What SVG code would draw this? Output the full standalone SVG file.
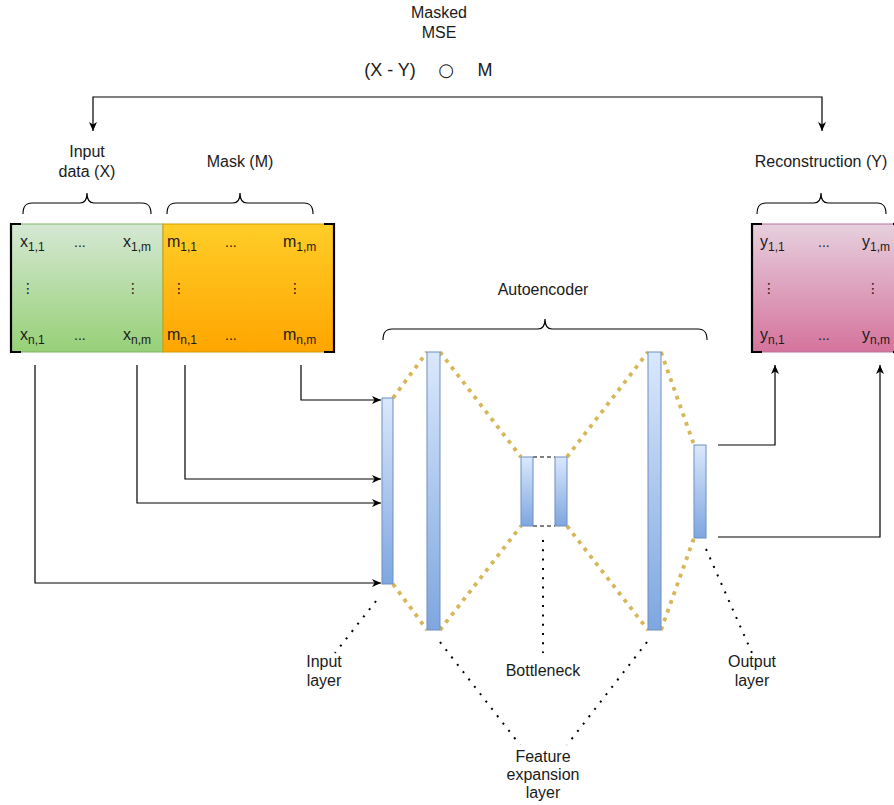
<svg xmlns="http://www.w3.org/2000/svg" width="894" height="805" viewBox="0 0 894 805">
<style>
text{font-family:"Liberation Sans","DejaVu Sans",Arial,sans-serif;font-size:16px;fill:#1a1a1a}
.c{text-anchor:middle}
.f{font-size:18px}
.sub{font-size:12px}
.dots{font-size:14px}
.vd{font-family:"DejaVu Sans","Liberation Sans",sans-serif;font-size:14px;text-anchor:middle}
.conn{fill:none;stroke:#000;stroke-width:1.2}
.brace{fill:none;stroke:#000;stroke-width:1.2}
.brk{fill:none;stroke:#000;stroke-width:2.2}
.layer{fill:url(#gBlue);stroke:#6c8ebf;stroke-width:1}
.gold{fill:none;stroke:#d6b656;stroke-width:3.8;stroke-dasharray:3.8 5.5}
.note{fill:none;stroke:#000;stroke-width:2;stroke-dasharray:2 7.3}
</style>
<defs>
<linearGradient id="gGreen" x1="0" y1="0" x2="0" y2="1"><stop offset="0" stop-color="#d5e8d4"/><stop offset="1" stop-color="#97d077"/></linearGradient>
<linearGradient id="gOrange" x1="0" y1="0" x2="0" y2="1"><stop offset="0" stop-color="#ffcd28"/><stop offset="1" stop-color="#ffa500"/></linearGradient>
<linearGradient id="gPink" x1="0" y1="0" x2="0" y2="1"><stop offset="0" stop-color="#e6d0de"/><stop offset="1" stop-color="#d5739d"/></linearGradient>
<linearGradient id="gBlue" x1="0" y1="0" x2="0" y2="1"><stop offset="0" stop-color="#dae8fc"/><stop offset="1" stop-color="#7ea6e0"/></linearGradient>
<marker id="arr" markerUnits="userSpaceOnUse" markerWidth="10" markerHeight="8" refX="9" refY="4" orient="auto"><path d="M0,0 L9,4 L0,8 L2.5,4 z" fill="#000"/></marker>
</defs>

<g id="formula">
<text class="c" x="439" y="18">Masked</text>
<text class="c" x="439" y="38">MSE</text>
<text class="c f" x="390" y="76">(X - Y)</text>
<text class="c" x="446" y="76" style="font-family:'DejaVu Sans',sans-serif;font-size:18px">○</text>
<text class="c f" x="485" y="76">M</text>
</g>

<g id="input-matrix">
<rect x="11" y="224" width="152" height="128" fill="url(#gGreen)" stroke="#82b366" stroke-width="1"/>
<path class="brk" d="M21,224 H11 V352 H21"/>
<text x="20" y="247">x<tspan class="sub" dy="4">1,1</tspan></text>
<text class="dots" x="74" y="247">...</text>
<text x="123" y="247">x<tspan class="sub" dy="4">1,m</tspan></text>
<text class="vd" x="28" y="293">⋮</text>
<text class="vd" x="133" y="293">⋮</text>
<text x="20" y="340">x<tspan class="sub" dy="4">n,1</tspan></text>
<text class="dots" x="74" y="340">...</text>
<text x="123" y="340">x<tspan class="sub" dy="4">n,m</tspan></text>
</g>

<g id="mask-matrix">
<rect x="163" y="224" width="171" height="128" fill="url(#gOrange)" stroke="#d79b00" stroke-width="1"/>
<path class="brk" d="M324,224 H334 V352 H324"/>
<text x="167" y="247">m<tspan class="sub" dy="4">1,1</tspan></text>
<text class="dots" x="225" y="247">...</text>
<text x="283" y="247">m<tspan class="sub" dy="4">1,m</tspan></text>
<text class="vd" x="179" y="293">⋮</text>
<text class="vd" x="295" y="293">⋮</text>
<text x="167" y="340">m<tspan class="sub" dy="4">n,1</tspan></text>
<text class="dots" x="225" y="340">...</text>
<text x="283" y="340">m<tspan class="sub" dy="4">n,m</tspan></text>
</g>

<g id="recon-matrix">
<rect x="752" y="224" width="152" height="128" fill="url(#gPink)" stroke="#b5739d" stroke-width="1"/>
<path class="brk" d="M762,224 H752 V352 H762"/>
<path class="brk" d="M893,224 H903 V352 H893"/>
<text x="760" y="247">y<tspan class="sub" dy="4">1,1</tspan></text>
<text class="dots" x="818" y="247">...</text>
<text x="862" y="247">y<tspan class="sub" dy="4">1,m</tspan></text>
<text class="vd" x="769" y="293">⋮</text>
<text class="vd" x="873" y="293">⋮</text>
<text x="760" y="340">y<tspan class="sub" dy="4">n,1</tspan></text>
<text class="dots" x="818" y="340">...</text>
<text x="862" y="340">y<tspan class="sub" dy="4">n,m</tspan></text>
</g>

<g id="brace-input">
<path class="brace" d="M23,214 C23,207 25,203 32,203 L80,203 C85,203 87,199 87,193 C87,199 89,203 94,203 L142,203 C149,203 151,207 151,214"/>
<text class="c" x="87" y="157">Input</text>
<text class="c" x="87" y="177">data (X)</text>
</g>
<g id="brace-mask">
<path class="brace" d="M167,214 C167,207 169,203 176,203 L233,203 C238,203 240,199 240,193 C240,199 242,203 247,203 L304,203 C311,203 313,207 313,214"/>
<text class="c" x="240" y="167">Mask (M)</text>
</g>
<g id="brace-recon">
<path class="brace" d="M757,214 C757,207 759,203 766,203 L814,203 C819,203 821,199 821,193 C821,199 823,203 828,203 L877,203 C884,203 886,207 886,214"/>
<text class="c" x="821" y="167">Reconstruction (Y)</text>
</g>
<g id="brace-autoencoder">
<path class="brace" d="M383,340 C383,333 385,329 392,329 L538,329 C543,329 545,325 545,319 C545,325 547,329 552,329 L698,329 C705,329 707,333 707,340"/>
<text class="c" x="543" y="295">Autoencoder</text>
</g>

<g id="autoencoder">
<path class="gold" d="M393,398 L427,352 M393,584 L427,630 M440,352 L521,457 M440,630 L521,526 M567,457 L648,352 M567,526 L648,630 M661,352 L694,445 M661,630 L694,538"/>
<path d="M533,457 H555 M533,526 H555" fill="none" stroke="#000" stroke-width="1" stroke-dasharray="4 3"/>
<rect id="input-layer" class="layer" x="382" y="398" width="11" height="186"/>
<rect id="feature-layer-1" class="layer" x="427" y="352" width="13" height="278"/>
<rect id="bottleneck-1" class="layer" x="521" y="457" width="12" height="69"/>
<rect id="bottleneck-2" class="layer" x="555" y="457" width="12" height="69"/>
<rect id="feature-layer-2" class="layer" x="648" y="352" width="13" height="278"/>
<rect id="output-layer" class="layer" x="694" y="445" width="12" height="93"/>
</g>

<g id="connectors">
<path class="conn" d="M458,97 H93 V131" marker-end="url(#arr)"/>
<path class="conn" d="M458,97 H822 V131" marker-end="url(#arr)"/>
<path class="conn" d="M35,365 V583 H381" marker-end="url(#arr)"/>
<path class="conn" d="M137,365 V503 H381" marker-end="url(#arr)"/>
<path class="conn" d="M185,365 V479 H381" marker-end="url(#arr)"/>
<path class="conn" d="M301,365 V400 H381" marker-end="url(#arr)"/>
<path class="conn" d="M718,445 H775 V365" marker-end="url(#arr)"/>
<path class="conn" d="M718,537 H880 V365" marker-end="url(#arr)"/>
</g>

<g id="annotations">
<path class="note" d="M376,601 L335,653"/>
<path class="note" d="M440,642 L520,745"/>
<path class="note" d="M647,642 L567,745"/>
<path class="note" d="M543,540 L543,653"/>
<path class="note" d="M706,549 L752,653"/>
</g>
<g id="label-input-layer"><text class="c" x="324" y="667">Input</text><text class="c" x="324" y="686">layer</text></g>
<g id="label-bottleneck"><text class="c" x="543" y="676">Bottleneck</text></g>
<g id="label-output-layer"><text class="c" x="752" y="667">Output</text><text class="c" x="752" y="686">layer</text></g>
<g id="label-feature"><text class="c" x="543" y="762">Feature</text><text class="c" x="543" y="780">expansion</text><text class="c" x="543" y="798">layer</text></g>
</svg>
